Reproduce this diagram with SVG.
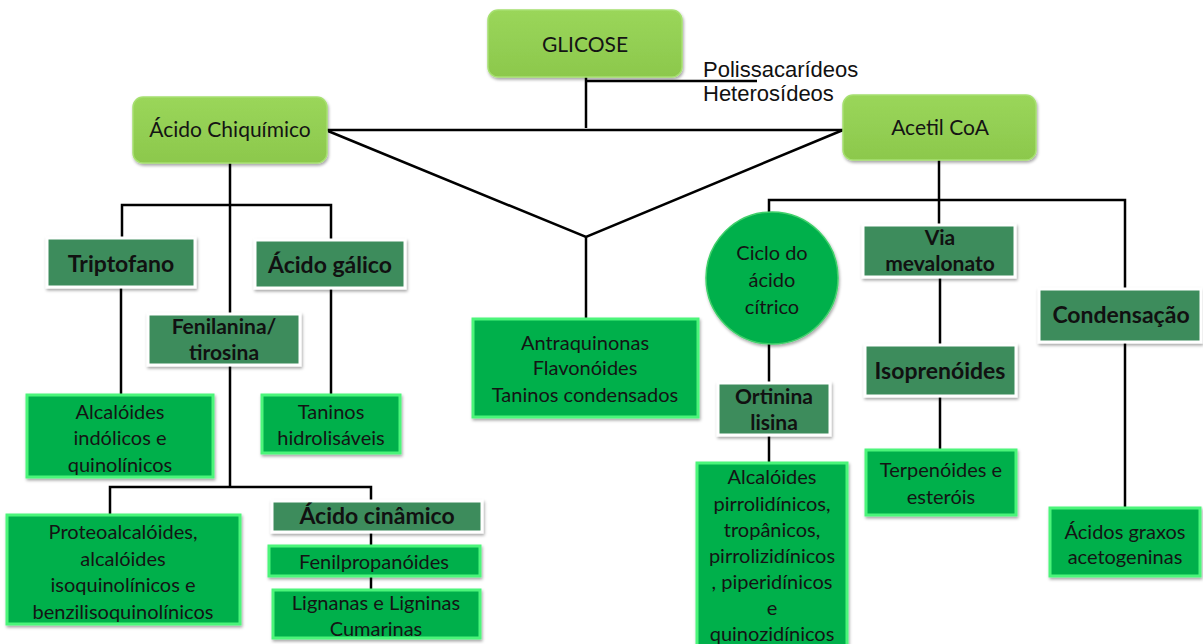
<svg xmlns="http://www.w3.org/2000/svg" width="1203" height="644" viewBox="0 0 1203 644">
<defs>
<linearGradient id="lg" x1="0" y1="0" x2="0" y2="1">
<stop offset="0" stop-color="#9ad65a"/><stop offset="1" stop-color="#8cc84c"/>
</linearGradient>
<filter id="sh" x="-10%" y="-10%" width="130%" height="140%">
<feDropShadow dx="1" dy="2" stdDeviation="1.5" flood-color="#000" flood-opacity="0.35"/>
</filter>
</defs>
<style>
.top{fill:url(#lg);stroke:#a6e070;stroke-width:1.5;filter:url(#sh)}
.dk{fill:#3d8c5c;stroke:#ffffff;stroke-width:3;filter:url(#sh)}
.lt{fill:#05b04c;stroke:#4cf57a;stroke-width:3;filter:url(#sh)}
.cir{fill:#05b04c;stroke:#3fd06a;stroke-width:1.5;filter:url(#sh)}
.t{font-family:Lato,"Liberation Sans",sans-serif;font-size:20px;fill:#141414;text-anchor:middle}
.tt{font-family:Lato,"Liberation Sans",sans-serif;font-size:21px;fill:#141414;text-anchor:middle}
.b{font-family:Lato,"Liberation Sans",sans-serif;font-size:23px;font-weight:bold;fill:#111;text-anchor:middle}
.b2{font-family:Lato,"Liberation Sans",sans-serif;font-size:21px;font-weight:bold;fill:#111;text-anchor:middle}
.a{font-family:"Liberation Sans",Arial,sans-serif;font-size:22px;fill:#111}
.ln{stroke:#000;stroke-width:2.5;fill:none}
</style>
<g id="connectors" class="ln">
<path d="M586 77V128"/>
<path d="M586 81H757"/>
<path d="M327 130H843"/>
<path d="M328 131L586 237L843 130"/>
<path d="M586 237V319"/>
<path d="M230 163V487"/>
<path d="M122 237V205H331V240"/>
<path d="M121 287V395"/>
<path d="M331 288V395"/>
<path d="M110 515V487H371V500"/>
<path d="M371 532V546"/>
<path d="M371 576V590"/>
<path d="M939 160V225"/>
<path d="M769 213V200H1125V289"/>
<path d="M940 277V345"/>
<path d="M940 396V450"/>
<path d="M769 344V383"/>
<path d="M769 435V463"/>
<path d="M1125 342V508"/>
</g>
<g class="a">
<text x="703" y="77">Polissacarídeos</text>
<text x="703" y="101">Heterosídeos</text>
</g>
<g id="glicose"><rect class="top" x="488" y="10" width="194" height="67" rx="10"/><text class="tt" x="585" y="52">GLICOSE</text></g>
<g id="chiquimico"><rect class="top" x="133" y="97" width="194" height="66" rx="10"/><text class="tt" x="230" y="137">Ácido Chiquímico</text></g>
<g id="acetil"><rect class="top" x="843" y="95" width="193" height="65" rx="10"/><text class="tt" x="940" y="135">Acetil CoA</text></g>
<g id="triptofano"><rect class="dk" x="47" y="238" width="148" height="49"/><text class="b" x="121" y="272">Triptofano</text></g>
<g id="acido-galico"><rect class="dk" x="255" y="240" width="150" height="48"/><text class="b" x="330" y="273">Ácido gálico</text></g>
<g id="fenilanina"><rect class="dk" x="148" y="314" width="152" height="51"/><text class="b2" x="224" y="334">Fenilanina/</text><text class="b2" x="224" y="360">tirosina</text></g>
<g id="alc-indolicos"><rect class="lt" x="27" y="395" width="186" height="82"/><text class="t" x="120" y="419">Alcalóides</text><text class="t" x="120" y="445">indólicos e</text><text class="t" x="120" y="472">quinolínicos</text></g>
<g id="taninos-h"><rect class="lt" x="262" y="395" width="138" height="58"/><text class="t" x="331" y="419">Taninos</text><text class="t" x="331" y="445">hidrolisáveis</text></g>
<g id="proteo"><rect class="lt" x="7" y="515" width="233" height="109"/><text class="t" x="123" y="539">Proteoalcalóides,</text><text class="t" x="123" y="566">alcalóides</text><text class="t" x="123" y="592">isoquinolínicos e</text><text class="t" x="123" y="619">benzilisoquinolínicos</text></g>
<g id="cinamico"><rect class="dk" x="272" y="501" width="210" height="31"/><text class="b" x="377" y="524">Ácido cinâmico</text></g>
<g id="fenilprop"><rect class="lt" x="269" y="546" width="211" height="30"/><text class="t" x="374" y="569">Fenilpropanóides</text></g>
<g id="lignanas"><rect class="lt" x="273" y="590" width="207" height="48"/><text class="t" x="376" y="610">Lignanas e Ligninas</text><text class="t" x="376" y="636">Cumarinas</text></g>
<g id="antraquinonas"><rect class="lt" x="473" y="319" width="225" height="98"/><text class="t" x="585" y="350">Antraquinonas</text><text class="t" x="585" y="375">Flavonóides</text><text class="t" x="585" y="402">Taninos condensados</text></g>
<g id="ciclo"><circle class="cir" cx="772" cy="278" r="66"/><text class="t" x="772" y="260">Ciclo do</text><text class="t" x="772" y="287">ácido</text><text class="t" x="772" y="314">cítrico</text></g>
<g id="via"><rect class="dk" x="863" y="225" width="152" height="52"/><text class="b2" x="940" y="245">Via</text><text class="b2" x="940" y="271">mevalonato</text></g>
<g id="condensacao"><rect class="dk" x="1039" y="289" width="162" height="53"/><text class="b" x="1121" y="323">Condensação</text></g>
<g id="isoprenoides"><rect class="dk" x="865" y="345" width="151" height="51"/><text class="b" x="940" y="379">Isoprenóides</text></g>
<g id="ortinina"><rect class="dk" x="718" y="383" width="112" height="52"/><text class="b2" x="774" y="404">Ortinina</text><text class="b2" x="774" y="430">lisina</text></g>
<g id="alc-pirrol"><rect class="lt" x="697" y="463" width="150" height="190"/><text class="t" x="772" y="484">Alcalóides</text><text class="t" x="772" y="511">pirrolidínicos,</text><text class="t" x="772" y="537">tropânicos,</text><text class="t" x="772" y="563">pirrolizidínicos</text><text class="t" x="772" y="589">, piperidínicos</text><text class="t" x="772" y="615">e</text><text class="t" x="772" y="641">quinozidínicos</text></g>
<g id="terpenoides"><rect class="lt" x="866" y="450" width="150" height="65"/><text class="t" x="941" y="477">Terpenóides e</text><text class="t" x="941" y="504">esteróis</text></g>
<g id="acidos-graxos"><rect class="lt" x="1050" y="508" width="150" height="68"/><text class="t" x="1125" y="539">Ácidos graxos</text><text class="t" x="1125" y="564">acetogeninas</text></g>
</svg>
